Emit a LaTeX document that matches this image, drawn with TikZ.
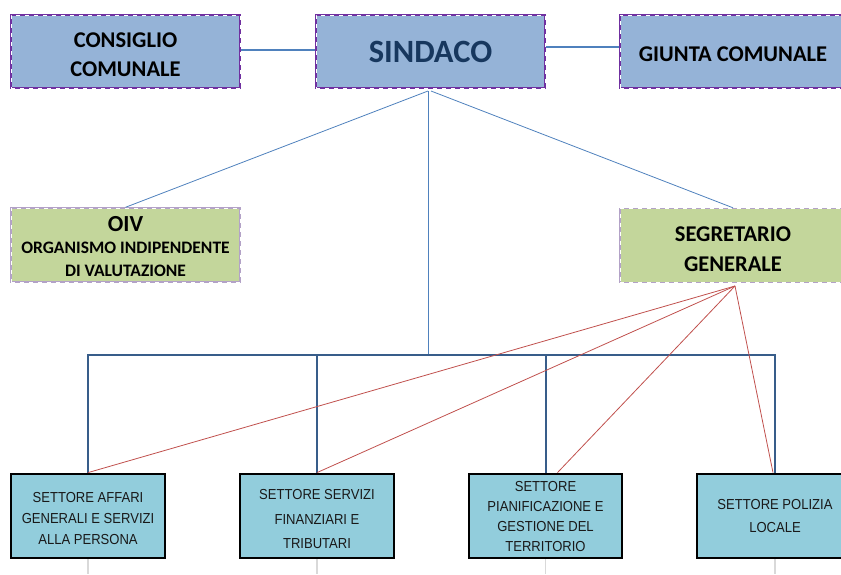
\documentclass[tikz,border=0pt]{standalone}
\usepackage{fontspec}
\setmainfont{Carlito}
\newfontfamily\unitfont[FakeStretch=0.9]{Liberation Sans}
\usepackage{tikz}
\usetikzlibrary{positioning}
\definecolor{HeadBlue}{RGB}{149,179,215}
\definecolor{HeadPurple}{RGB}{112,48,160}
\definecolor{StaffGreen}{RGB}{195,214,155}
\definecolor{StaffLilac}{RGB}{179,162,199}
\definecolor{UnitCyan}{RGB}{146,205,220}
\definecolor{LinkBlue}{RGB}{79,129,189}
\definecolor{BusBlue}{RGB}{56,93,138}
\definecolor{LinkRed}{RGB}{192,80,77}
\definecolor{MayorText}{RGB}{23,55,94}

\tikzset{
  headbox/.style={draw=HeadPurple, fill=HeadBlue, line width=2.3pt, inner sep=0pt,
        minimum width=229pt, minimum height=73pt, align=center,
        font=\bfseries\fontsize{22.5}{29}\selectfont,
        postaction={draw=white, line width=0.4pt, dash pattern=on 4pt off 5pt}},
  staffbox/.style={draw=StaffLilac, fill=StaffGreen, line width=1.4pt, inner sep=0pt,
        minimum height=74pt, align=center, font=\bfseries\fontsize{22.5}{30}\selectfont,
        postaction={draw=white, line width=0.4pt, dash pattern=on 4pt off 5pt}},
  unitbox/.style={draw=black, fill=UnitCyan, line width=2.8pt, inner sep=0pt,
        minimum height=84pt, align=center, text=black!90,
        font=\unitfont\fontsize{14.5}{21}\selectfont},
  link/.style={draw=LinkBlue, line width=1.5pt},
  thinlink/.style={draw=LinkBlue, line width=0.8pt},
  busline/.style={draw=BusBlue, line width=2pt},
  redline/.style={draw=LinkRed, line width=0.8pt},
  stub/.style={draw=black!15, line width=1.2pt}
}

\begin{document}
\begin{tikzpicture}[x=1pt, y=-1pt]
  \useasboundingbox (0,0) rectangle (841,574);

  % vertici
  \node[headbox] (consiglio) at (125.5,51.5) {\rule{0pt}{20.6pt}CONSIGLIO\\COMUNALE};
  \node[headbox, font=\bfseries\fontsize{32.5}{36}\selectfont, text=MayorText] (sindaco) at (430.5,51.5) {SINDACO};
  \node[headbox, minimum width=226pt] (giunta) at (733,51.5) {\rule{0pt}{19.5pt}GIUNTA COMUNALE};

  \node[staffbox, minimum width=229pt, font=\bfseries\fontsize{17.5}{23}\selectfont] (oiv) at (125.5,245)
    {{\fontsize{23}{24}\selectfont\rule{0pt}{18.6pt}OIV}\\[-1pt]ORGANISMO INDIPENDENTE\\DI VALUTAZIONE};
  \node[staffbox, minimum width=226pt] (segretario) at (733,245.5) {\rule{0pt}{21.3pt}SEGRETARIO\\GENERALE};

  % settori
  \node[unitbox, minimum width=154pt] (affari) at (88,516) {\rule{0pt}{14.4pt}SETTORE AFFARI\\GENERALI E SERVIZI\\ALLA PERSONA};
  \node[unitbox, minimum width=154pt, font=\unitfont\fontsize{14.5}{24.5}\selectfont] (finanze) at (317,516) {\rule{0pt}{16.4pt}SETTORE SERVIZI\\FINANZIARI E\\TRIBUTARI};
  \node[unitbox, minimum width=153pt, font=\unitfont\fontsize{14.5}{20}\selectfont] (territorio) at (545.5,516) {SETTORE\\PIANIFICAZIONE E\\GESTIONE DEL\\TERRITORIO};
  \node[unitbox, minimum width=156pt, font=\unitfont\fontsize{14.5}{23}\selectfont] (polizia) at (775,516) {SETTORE POLIZIA\\LOCALE};

  \coordinate (sd) at (428,91);
  \coordinate (bus) at (428,355);
  \coordinate (sg) at (735,286);
  \coordinate (pagebottom) at (0,574);

  % collegamenti
  \draw[link] (consiglio.east |- 0,50) -- (sindaco.west |- 0,50);
  \draw[link] (sindaco.east |- 0,47) -- (giunta.west |- 0,47);
  \draw[thinlink] (sd) -- (oiv.north);
  \draw[thinlink] ([xshift=3pt]sd) -- (segretario.north);
  \draw[thinlink] (sd) -- (bus);

  \draw[busline] (affari.north) -- (affari.north |- bus) -- (polizia.north |- bus) -- (polizia.north);
  \foreach \u in {finanze, territorio}
    \draw[busline] (\u.north |- bus) -- (\u.north);

  \foreach \u in {affari, finanze, territorio, polizia}
    \draw[stub] (\u.south) -- (\u.south |- pagebottom);

  \draw[redline] (sg) -- (affari.north);
  \draw[redline] (sg) -- (finanze.north);
  \draw[redline] (sg) -- ([xshift=12pt]territorio.north);
  \draw[redline] (sg) -- ([xshift=-2pt]polizia.north);
\end{tikzpicture}
\end{document}
